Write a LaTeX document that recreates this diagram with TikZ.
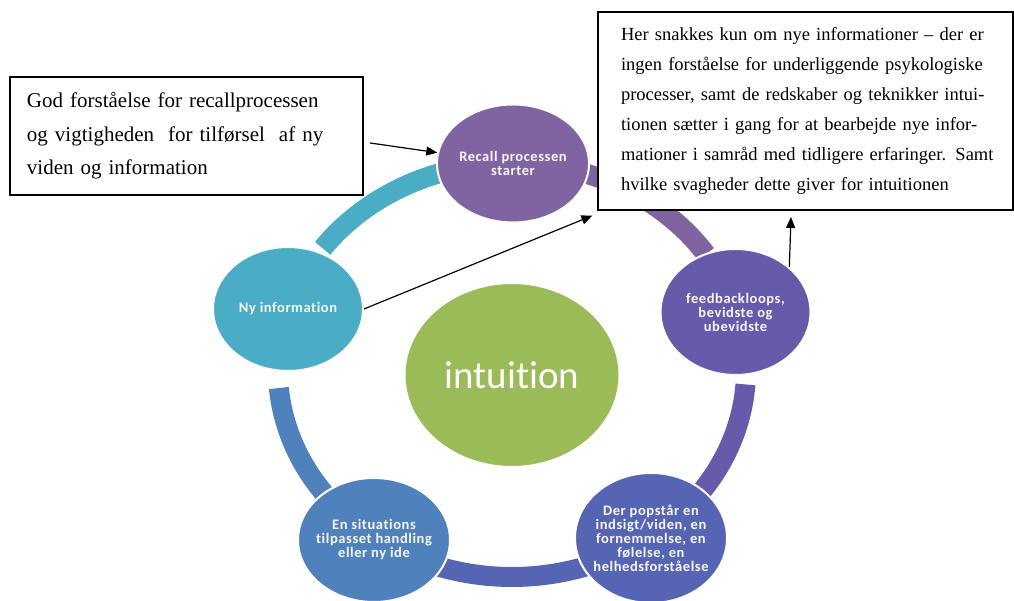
\documentclass[tikz,border=0pt]{standalone}
\usepackage{fontspec}
\setmainfont{Liberation Serif}
\newfontfamily\cfont[Ligatures=NoCommon]{Carlito}
\newfontfamily\cfontsp[Ligatures=NoCommon,LetterSpace=4]{Carlito}
\usetikzlibrary{shapes.geometric,arrows.meta,calc}
\definecolor{cRecall}{RGB}{128,100,162}
\definecolor{cFeed}{RGB}{102,90,170}
\definecolor{cDer}{RGB}{86,100,180}
\definecolor{cEn}{RGB}{79,129,189}
\definecolor{cNy}{RGB}{75,172,198}
\definecolor{cInt}{RGB}{155,187,89}
\tikzset{
  bubble/.style={ellipse, draw=white, line width=2pt, text=white!94!gray, align=center, inner sep=0pt,
    font=\cfontsp\bfseries\fontsize{14.5}{14}\selectfont},
  seg/.style={line width=20pt},
  callout/.style={draw=black, line width=1.2pt, fill=white, align=left, inner ysep=0pt},
  arr/.style={-{Triangle[length=11pt,width=9pt]}, line width=1.2pt}
}
\begin{document}
\begin{tikzpicture}[x=1pt,y=1pt]
\useasboundingbox (0,0) rectangle (1014,601);
\coordinate (ringc) at (512,231);
% ring segments
\draw[seg, cRecall] ($(ringc)+(74:234 and 207)$) arc[start angle=74, end angle=34, x radius=234, y radius=207];
\draw[seg, cFeed] ($(ringc)+(-4:234 and 207)$) arc[start angle=-4, end angle=-38, x radius=234, y radius=207];
\draw[seg, cDer] ($(ringc)+(-70:234 and 207)$) arc[start angle=-70, end angle=-110, x radius=234, y radius=207];
\draw[seg, cEn] ($(ringc)+(218:234 and 207)$) arc[start angle=218, end angle=185, x radius=234, y radius=207];
\draw[seg, cNy] ($(ringc)+(144:234 and 207)$) arc[start angle=144, end angle=108, x radius=234, y radius=207];
% circles
\node[bubble, fill=cRecall, minimum width=148pt, minimum height=118pt] (recall) at (513,437.5) {Recall processen\\starter};
\node[bubble, fill=cNy, minimum width=150pt, minimum height=124pt] (ny) at (288,292) {Ny information};
\node[bubble, fill=cFeed, minimum width=150pt, minimum height=126pt] (fb) at (735.5,289) {feedbackloops,\\bevidste og\\ubevidste};
\node[bubble, fill=cDer, minimum width=152pt, minimum height=130pt, inner xsep=-7pt] (der) at (651,63) {Der popstår en\\indsigt/viden, en\\fornemmelse, en\\følelse, en\\helhedsforståelse};
\node[bubble, fill=cEn, minimum width=152pt, minimum height=124pt, inner xsep=-7pt] (en) at (374,61) {En situations\\tilpasset handling\\eller ny ide};
\node[ellipse, fill=cInt, draw=white, line width=2pt, inner sep=0pt, minimum width=215pt, minimum height=184pt, text=white,
  font=\cfont\fontsize{39}{40}\selectfont] (int) at (512,226) {intuition};
% callouts
\node[callout, minimum width=415pt, minimum height=198pt, text width=369pt, inner xsep=23pt,
  font=\fontsize{18.5}{30}\selectfont] (box2) at (805.5,490) {%
\makebox[369pt][s]{Her snakkes kun om nye informationer -- der er}\\
\makebox[369pt][s]{ingen forståelse for underliggende psykologiske}\\
\makebox[369pt][s]{processer, samt de redskaber og teknikker intui-}\\
\makebox[369pt][s]{tionen sætter i gang for at bearbejde nye infor-}\\
\makebox[369pt][s]{mationer i samråd med tidligere erfaringer.  Samt}\\
hvilke svagheder dette giver for intuitionen};
\node[callout, minimum width=353pt, minimum height=118pt, text width=319pt, inner xsep=17pt,
  font=\fontsize{21}{33.5}\selectfont] (box1) at (186.5,465) {%
God forståelse for recallprocessen\\
og vigtigheden\ \ for tilførsel\ \ af ny\\
viden og information};
% arrows
\coordinate (a1s) at (370,458);
\draw[arr] (a1s) -- (recall);
\draw[arr] (ny.east) -- ([shift={(-5pt,-5pt)}]box2.south west);
\coordinate (a3e) at (791,384);
\draw[arr] (fb.40) -- (a3e);
\end{tikzpicture}
\end{document}
